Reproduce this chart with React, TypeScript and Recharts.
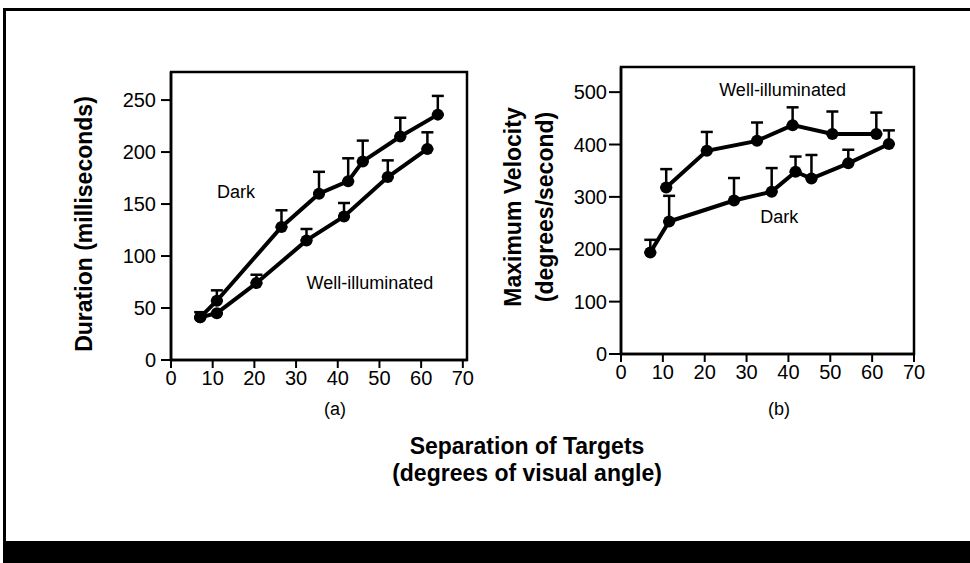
import { ScatterChart, Scatter, XAxis, YAxis, ErrorBar, ReferenceArea, ReferenceDot } from "recharts"

// (a) duration, milliseconds
const darkXa = [7, 11, 26.5, 35.5, 42.5, 46, 55, 64]
const darkYa = [41, 57, 128, 160, 172, 191, 215, 236]
const darkErrA = [5, 10, 16, 21, 22, 20, 18, 18]

const wellXa = [7, 11, 20.5, 32.5, 41.5, 52, 61.5]
const wellYa = [41, 45, 74, 115, 138, 176, 203]
const wellErrA = [0, 0, 8, 11, 13, 16, 16]

// (b) maximum velocity, degrees/second
const wellXb = [10.8, 20.5, 32.5, 41, 50.5, 61]
const wellYb = [318, 388, 407, 437, 420, 420]
const wellErrB = [35, 36, 35, 34, 43, 41]

const darkXb = [7, 11.5, 27, 36, 41.7, 45.5, 54.3, 64]
const darkYb = [194, 253, 293, 310, 348, 335, 364, 401]
const darkErrB = [24, 49, 43, 45, 29, 45, 26, 26]

const xTicks = [0, 10, 20, 30, 40, 50, 60, 70]
const yTicksA = [0, 50, 100, 150, 200, 250]
const yTicksB = [0, 100, 200, 300, 400, 500]

const build = (xs: number[], ys: number[], errs: number[]) =>
  xs.map((x, i) => ({ x, y: ys[i], err: [0, errs[i]] }))

const darkA = build(darkXa, darkYa, darkErrA)
const wellA = build(wellXa, wellYa, wellErrA)
const wellB = build(wellXb, wellYb, wellErrB)
const darkB = build(darkXb, darkYb, darkErrB)

const font = "'Liberation Sans', Arial, sans-serif"
const tickStyle = { fill: "#000", fontSize: 20, fontFamily: font }
const axisLine = { stroke: "#000", strokeWidth: 2.5 }
const tickLine = { stroke: "#000", strokeWidth: 2 }
const annot = { fill: "#000", fontSize: 18, fontFamily: font }

const dot = (p: any) => <circle cx={p.cx} cy={p.cy} r={6} fill="#000" />

const Series = ({ data, name }: { data: any[]; name: string }) => (
  <Scatter
    name={name}
    data={data}
    fill="#000"
    shape={dot}
    line={{ stroke: "#000", strokeWidth: 4 }}
    isAnimationActive={false}
  >
    <ErrorBar dataKey="err" direction="y" width={6} stroke="#000" strokeWidth={2.5} />
  </Scatter>
)

const abs = (left: number, top: number, extra: any = {}) => ({
  position: "absolute" as const,
  left,
  top,
  ...extra,
})

export default function App() {
  return (
    <div style={{ position: "absolute", left: 0, top: 0, width: 970, height: 563, background: "#fff", overflow: "hidden", fontFamily: font, color: "#000" }}>
      {/* frame */}
      <div style={abs(3, 8, { width: 967, height: 3, background: "#000" })} />
      <div style={abs(3, 8, { width: 3, height: 540, background: "#000" })} />
      <div style={abs(3, 541, { width: 967, height: 22, background: "#000" })} />

      {/* (a) */}
      <div style={abs(100, 50)}>
        <ScatterChart width={390} height={370} margin={{ top: 22, right: 23, bottom: 30, left: 11 }}>
          <XAxis type="number" dataKey="x" domain={[0, 71]} ticks={xTicks} height={30} axisLine={axisLine} tickLine={tickLine} tickSize={8} tickMargin={3} tick={tickStyle} allowDataOverflow />
          <YAxis type="number" dataKey="y" domain={[0, 277]} ticks={yTicksA} width={60} axisLine={axisLine} tickLine={tickLine} tickSize={10} tickMargin={5} tick={tickStyle} allowDataOverflow />
          <ReferenceArea x1={0} x2={71} y1={0} y2={277} fill="none" stroke="#000" strokeWidth={2.5} />
          <Series data={darkA} name="Dark" />
          <Series data={wellA} name="Well-illuminated" />
          <ReferenceDot x={15.6} y={162} r={0} label={{ value: "Dark", position: "center", ...annot }} />
          <ReferenceDot x={47.7} y={74} r={0} label={{ value: "Well-illuminated", position: "center", ...annot }} />
        </ScatterChart>
      </div>

      {/* (b) */}
      <div style={abs(550, 45)}>
        <ScatterChart width={390} height={370} margin={{ top: 22, right: 26, bottom: 31, left: 11 }}>
          <XAxis type="number" dataKey="x" domain={[0, 70]} ticks={xTicks} height={30} axisLine={axisLine} tickLine={tickLine} tickSize={8} tickMargin={3} tick={tickStyle} allowDataOverflow />
          <YAxis type="number" dataKey="y" domain={[0, 548]} ticks={yTicksB} width={60} axisLine={axisLine} tickLine={tickLine} tickSize={12} tickMargin={2} tick={tickStyle} allowDataOverflow />
          <ReferenceArea x1={0} x2={70} y1={0} y2={548} fill="none" stroke="#000" strokeWidth={2.5} />
          <Series data={wellB} name="Well-illuminated" />
          <Series data={darkB} name="Dark" />
          <ReferenceDot x={38.6} y={504} r={0} label={{ value: "Well-illuminated", position: "center", ...annot }} />
          <ReferenceDot x={37.8} y={263} r={0} label={{ value: "Dark", position: "center", ...annot }} />
        </ScatterChart>
      </div>

      {/* axis titles */}
      <div style={abs(84, 224, { transform: "translate(-50%, -50%) rotate(-90deg)", whiteSpace: "nowrap", fontWeight: 700, fontSize: 23 })}>
        Duration (milliseconds)
      </div>
      <div style={abs(529, 207, { transform: "translate(-50%, -50%) rotate(-90deg)", whiteSpace: "nowrap", fontWeight: 700, fontSize: 23, lineHeight: "32px", textAlign: "center" })}>
        Maximum Velocity<br />(degrees/second)
      </div>
      <div style={abs(335, 409, { transform: "translate(-50%, -50%)", fontSize: 18 })}>(a)</div>
      <div style={abs(779, 409, { transform: "translate(-50%, -50%)", fontSize: 18 })}>(b)</div>
      <div style={abs(527, 460, { transform: "translate(-50%, -50%)", whiteSpace: "nowrap", fontWeight: 700, fontSize: 23, lineHeight: "27px", textAlign: "center" })}>
        Separation of Targets<br />(degrees of visual angle)
      </div>
    </div>
  )
}
